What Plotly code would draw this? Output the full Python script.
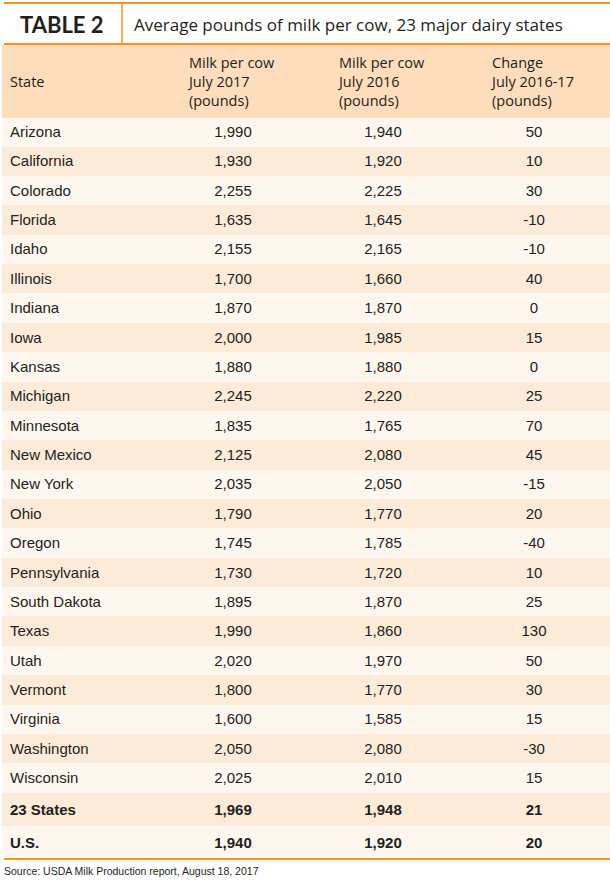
import plotly.graph_objects as go

states = ["Arizona", "California", "Colorado", "Florida", "Idaho", "Illinois", "Indiana",
          "Iowa", "Kansas", "Michigan", "Minnesota", "New Mexico", "New York", "Ohio",
          "Oregon", "Pennsylvania", "South Dakota", "Texas", "Utah", "Vermont", "Virginia",
          "Washington", "Wisconsin", "23 States", "U.S."]
milk_2017 = [1990, 1930, 2255, 1635, 2155, 1700, 1870, 2000, 1880, 2245, 1835, 2125, 2035,
             1790, 1745, 1730, 1895, 1990, 2020, 1800, 1600, 2050, 2025, 1969, 1940]
milk_2016 = [1940, 1920, 2225, 1645, 2165, 1660, 1870, 1985, 1880, 2220, 1765, 2080, 2050,
             1770, 1785, 1720, 1870, 1860, 1970, 1770, 1585, 2080, 2010, 1948, 1920]
change = [50, 10, 30, -10, -10, 40, 0, 15, 0, 25, 70, 45, -15, 20, -40, 10, 25, 130, 50,
          30, 15, -30, 15, 21, 20]
headers = ["&nbsp;<br>State", "Milk per cow<br>July 2017<br>(pounds)", "Milk per cow<br>July 2016<br>(pounds)",
           "Change<br>July 2016-17<br>(pounds)"]
title_label = "TABLE 2"
subtitle = "Average pounds of milk per cow, 23 major dairy states"
source = "Source: USDA Milk Production report, August 18, 2017"

W, H = 610, 882
ORANGE = "#F7941D"
HEAD = "#FDDDBB"
DARK = "#FDEBD9"
LIGHT = "#FEF7EF"
TXT = "#231F20"

n = len(states)
bold = [i >= n - 2 for i in range(n)]


def fmt(v):
    return f"{v:,}"


def wrap(s, b):
    return f"<b>{s}</b>" if b else s


col0 = [wrap(s, b) for s, b in zip(states, bold)]
col1 = [wrap(fmt(v), b) for v, b in zip(milk_2017, bold)]
col2 = [wrap(fmt(v), b) for v, b in zip(milk_2016, bold)]
col3 = [wrap(str(v), b) for v, b in zip(change, bold)]
fills = [LIGHT if i % 2 == 0 else DARK for i in range(n)]

x0 = 4
top = 45
bottom = 858
header_h = 72
row_h = 29.37

fig = go.Figure(go.Table(
    domain=dict(x=[2 / W, 1], y=[1 - bottom / H, 1 - top / H]),
    columnwidth=[156, 150, 150, 152],
    header=dict(
        values=headers,
        fill_color=HEAD,
        line_color=HEAD,
        align=["left", "center", "center", "center"],
        font=dict(family="Open Sans, Lato, sans-serif", size=14.5, color=TXT),
        height=header_h,
    ),
    cells=dict(
        values=[col0, col1, col2, col3],
        fill_color=[fills] * 4,
        line_color=[fills] * 4,
        align=["left", "center", "center", "center"],
        font=dict(family="Liberation Sans, Arial, sans-serif", size=15, color=TXT),
        height=row_h,
    ),
))

shapes = [
    dict(type="line", xref="paper", yref="paper", x0=x0 / W, x1=1, y0=1 - 3 / H, y1=1 - 3 / H,
         line=dict(color=ORANGE, width=2)),
    dict(type="line", xref="paper", yref="paper", x0=x0 / W, x1=1, y0=1 - 44 / H, y1=1 - 44 / H,
         line=dict(color=ORANGE, width=2)),
    dict(type="line", xref="paper", yref="paper", x0=122 / W, x1=122 / W, y0=1 - 3 / H, y1=1 - 44 / H,
         line=dict(color=ORANGE, width=1.5)),
    dict(type="line", xref="paper", yref="paper", x0=x0 / W, x1=1, y0=1 - 859 / H, y1=1 - 859 / H,
         line=dict(color=ORANGE, width=2)),
]

annotations = [
    dict(text=f"<b>{title_label}</b>", x=62 / W, y=1 - 24 / H, xref="paper", yref="paper",
         xanchor="center", yanchor="middle", showarrow=False,
         font=dict(family="Lato, Roboto, sans-serif", size=22, color=TXT)),
    dict(text=subtitle, x=132 / W, y=1 - 24 / H, xref="paper", yref="paper",
         xanchor="left", yanchor="middle", showarrow=False,
         font=dict(family="Open Sans, Lato, sans-serif", size=17, color=TXT)),
    dict(text=source, x=2 / W, y=1 - 871 / H, xref="paper", yref="paper",
         xanchor="left", yanchor="middle", showarrow=False,
         font=dict(family="Liberation Sans, Arial, sans-serif", size=10.5, color=TXT)),
]

fig.update_layout(width=W, height=H, margin=dict(l=0, r=0, t=0, b=0),
                  paper_bgcolor="white", plot_bgcolor="white",
                  shapes=shapes, annotations=annotations)

fig.write_html("out.html", config={"displayModeBar": False},
               post_script="document.body.style.margin='0';")
